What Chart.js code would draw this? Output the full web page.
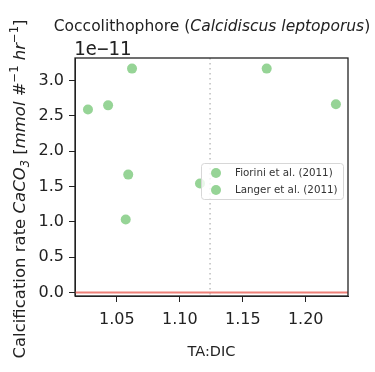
<!DOCTYPE html>
<html>
<head>
<meta charset="utf-8">
<script src="https://cdn.jsdelivr.net/npm/chart.js@4/dist/chart.umd.min.js"></script>
<style>
  body { margin: 0; background: #fff; }
  #wrap { width: 375px; height: 372px; }
</style>
</head>
<body>
<div id="wrap"><canvas id="myChart" width="375" height="372"></canvas></div>
<script>
// data (rates in mmol #-1 hr-1)
var fioriniTA = [1.027, 1.043, 1.062, 1.059];
var fioriniRate = [2.59e-11, 2.65e-11, 3.17e-11, 1.67e-11];
var langerTA = [1.057, 1.116, 1.169, 1.224];
var langerRate = [1.035e-11, 1.545e-11, 3.17e-11, 2.665e-11];
var seriesNames = ['Fiorini et al. (2011)', 'Langer et al. (2011)'];
var xTicks = [1.05, 1.10, 1.15, 1.20];
var yTicks = [0, 0.5e-11, 1.0e-11, 1.5e-11, 2.0e-11, 2.5e-11, 3.0e-11];
var zeroLine = [0];
var refTA = [1.124];

var green = 'rgb(150, 212, 150)';
var font = 'DejaVu Sans';

function toPoints(xs, ys) {
    var out = [];
    for (var i = 0; i < xs.length; i++) out.push({x: xs[i], y: ys[i]});
    return out;
}

// draws a run of text pieces, some italic / sub / superscript
function richText(ctx, parts, x, y, size) {
    var total = 0;
    parts.forEach(function(p) {
        var s = (p.sub || p.sup) ? size * 0.7 : size;
        ctx.font = (p.it ? 'italic ' : '') + s + 'px "' + font + '"';
        p.w = ctx.measureText(p.t).width;
        total += p.w;
    });
    var cx = x - total / 2;
    parts.forEach(function(p) {
        var s = (p.sub || p.sup) ? size * 0.7 : size;
        ctx.font = (p.it ? 'italic ' : '') + s + 'px "' + font + '"';
        var dy = p.sub ? size * 0.22 : (p.sup ? -size * 0.4 : 0);
        ctx.fillText(p.t, cx, y + dy);
        cx += p.w;
    });
}

var extras = {
    id: 'extras',
    beforeDatasetsDraw: function(chart) {
        var ctx = chart.ctx, a = chart.chartArea;
        var xs = chart.scales.x, ys = chart.scales.y;
        ctx.save();
        // dotted reference line
        ctx.strokeStyle = 'rgb(190,190,190)';
        ctx.lineWidth = 1.5;
        ctx.setLineDash([1.5, 3.5]);
        refTA.forEach(function(v) {
            var px = xs.getPixelForValue(v);
            ctx.beginPath(); ctx.moveTo(px, a.top); ctx.lineTo(px, a.bottom); ctx.stroke();
        });
        ctx.setLineDash([]);
        // zero line
        ctx.strokeStyle = 'rgb(238,128,120)';
        ctx.lineWidth = 2;
        zeroLine.forEach(function(v) {
            var py = ys.getPixelForValue(v);
            ctx.beginPath(); ctx.moveTo(a.left, py); ctx.lineTo(a.right, py); ctx.stroke();
        });
        ctx.restore();
    },
    afterDraw: function(chart) {
        var ctx = chart.ctx, a = chart.chartArea;
        ctx.save();
        // frame
        ctx.strokeStyle = '#222';
        ctx.lineWidth = 1.3;
        ctx.strokeRect(a.left, a.top, a.right - a.left, a.bottom - a.top);

        ctx.fillStyle = '#222';
        ctx.textBaseline = 'alphabetic';
        ctx.textAlign = 'left';
        // title
        richText(ctx, [
            {t: 'Coccolithophore ('},
            {t: 'Calcidiscus leptoporus', it: true},
            {t: ')'}
        ], 212, 31, 15.5);
        // offset text
        ctx.font = '19px "DejaVu Sans Mono", monospace';
        ctx.fillText('1e\u221211', a.left - 1, 55);
        // x title
        ctx.font = '14.5px "' + font + '"';
        ctx.textAlign = 'center';
        ctx.fillText('TA:DIC', (a.left + a.right) / 2, 356);
        ctx.textAlign = 'left';
        // y title
        ctx.save();
        ctx.translate(25, 189);
        ctx.rotate(-Math.PI / 2);
        richText(ctx, [
            {t: 'Calcification rate '},
            {t: 'CaCO', it: true},
            {t: '3', it: true, sub: true},
            {t: ' ['},
            {t: 'mmol', it: true},
            {t: ' '},
            {t: '#', it: true},
            {t: '\u22121', sup: true},
            {t: ' '},
            {t: 'hr', it: true},
            {t: '\u22121', sup: true},
            {t: ']'}
        ], 0, 0, 16.5);
        ctx.restore();

        // legend
        var bx = 201, by = 163, bw = 142, bh = 36;
        ctx.fillStyle = 'rgba(255,255,255,0.8)';
        ctx.strokeStyle = 'rgb(215,215,215)';
        ctx.lineWidth = 1;
        ctx.beginPath();
        ctx.roundRect(bx + 0.5, by + 0.5, bw, bh, 3);
        ctx.fill(); ctx.stroke();
        chart.data.datasets.forEach(function(ds, i) {
            var ly = by + 10 + i * 17;
            ctx.fillStyle = ds.backgroundColor;
            ctx.beginPath(); ctx.arc(bx + 15, ly, 5, 0, Math.PI * 2); ctx.fill();
            ctx.fillStyle = '#333';
            ctx.font = '10.3px "' + font + '"';
            ctx.textBaseline = 'middle';
            ctx.fillText(ds.label, bx + 34, ly);
        });
        ctx.restore();
    }
};

var ctx = document.getElementById('myChart').getContext('2d');
var chart = new Chart(ctx, {
    type: 'scatter',
    data: {
        datasets: [{
            label: seriesNames[0],
            data: toPoints(fioriniTA, fioriniRate),
            backgroundColor: green,
            borderWidth: 0,
            pointRadius: 5
        }, {
            label: seriesNames[1],
            data: toPoints(langerTA, langerRate),
            backgroundColor: green,
            borderWidth: 0,
            pointRadius: 5
        }]
    },
    options: {
        responsive: false,
        animation: false,
        events: [],
        layout: { padding: { top: 58, right: 27, left: 0, bottom: 0 } },
        plugins: { legend: { display: false }, tooltip: { enabled: false } },
        scales: {
            x: {
                type: 'linear',
                min: 1.0167,
                max: 1.2336,
                afterBuildTicks: function(s) { s.ticks = xTicks.map(function(v) { return {value: v}; }); },
                afterFit: function(s) { s.height = 76; },
                grid: { display: true, drawOnChartArea: false, drawTicks: true, tickLength: 6, color: '#222' },
                border: { display: true, color: '#222' },
                ticks: {
                    color: '#222',
                    font: { family: font, size: 16 },
                    padding: 8,
                    maxRotation: 0,
                    callback: function(v) { return v.toFixed(2); }
                }
            },
            y: {
                min: -0.048e-11,
                max: 3.32e-11,
                afterBuildTicks: function(s) { s.ticks = yTicks.map(function(v) { return {value: v}; }); },
                afterFit: function(s) { s.width = 75; },
                grid: { display: true, drawOnChartArea: false, drawTicks: true, tickLength: 6, color: '#222' },
                border: { display: true, color: '#222' },
                ticks: {
                    color: '#222',
                    font: { family: font, size: 16 },
                    padding: 5,
                    callback: function(v) { return (v / 1e-11).toFixed(1); }
                }
            }
        }
    },
    plugins: [extras]
});
</script>
</body>
</html>
